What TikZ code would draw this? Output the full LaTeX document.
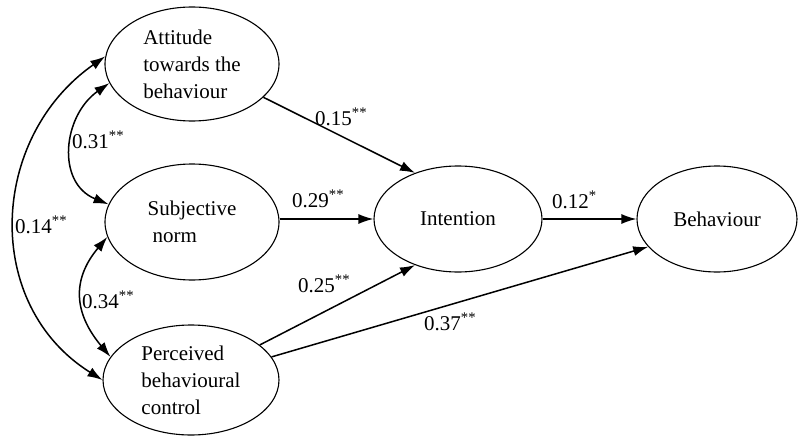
\documentclass[tikz,border=0pt]{standalone}
\usepackage{fontspec}
\setmainfont{Liberation Serif}
\usetikzlibrary{shapes.geometric,arrows.meta}
\begin{document}
\begin{tikzpicture}[x=1pt,y=1pt,
  latent/.style={draw, ellipse, line width=1.1pt, inner sep=0pt, align=left,
    font=\fontsize{21}{27}\selectfont},
  arr/.style={line width=1.5pt, -{Latex[length=15pt,width=10pt]}},
  dbl/.style={line width=1.5pt, {Latex[length=15pt,width=10pt]}-{Latex[length=15pt,width=10pt]}},
  coef/.style={inner sep=0pt, anchor=base west, font=\fontsize{21}{25}\selectfont}]
\useasboundingbox (0,0) rectangle (798,-436);
% latent variables
\node[latent, minimum width=174pt, minimum height=114pt] (att) at (192,-64) {Attitude\\towards the\\behaviour};
\node[latent, minimum width=174pt, minimum height=116pt] (sub) at (192,-222) {Subjective\\\hspace*{5pt}norm};
\node[latent, minimum width=176pt, minimum height=110pt] (per) at (191,-380) {Perceived\\behavioural\\control};
\node[latent, minimum width=168pt, minimum height=106pt] (int) at (458,-219) {Intention};
\node[latent, minimum width=160pt, minimum height=106pt] (beh) at (717,-219) {Behaviour};
% directed paths
\draw[arr] (att.-25) -- (int.133);
\draw[arr] (sub.east |- int.west) -- (int.west);
\draw[arr] (per.27) -- (int.-133);
\draw[arr] (per.16) -- (beh.-158);
\draw[arr] (int.east) -- (beh.west);
% correlations
\draw[dbl] (att.-167) to[out=215,in=158,looseness=1.2] (sub.168);
\draw[dbl] (sub.-170) to[out=230,in=130,looseness=1.2] (per.164);
\draw[dbl] (att.175) to[out=215,in=148,looseness=1.12] (per.west);
% coefficients
\node[coef] (c15) at (315,-125) {0.15\textsuperscript{**}};
\node[coef] (c31) at (72,-148) {0.31\textsuperscript{**}};
\node[coef] (c29) at (292,-207) {0.29\textsuperscript{**}};
\node[coef] (c14) at (15,-233) {0.14\textsuperscript{**}};
\node[coef] (c34) at (82,-308) {0.34\textsuperscript{**}};
\node[coef] (c25) at (298,-292) {0.25\textsuperscript{**}};
\node[coef] (c37) at (424,-330) {0.37\textsuperscript{**}};
\node[coef] (c12) at (552,-208) {0.12\textsuperscript{*}};
\end{tikzpicture}
\end{document}
